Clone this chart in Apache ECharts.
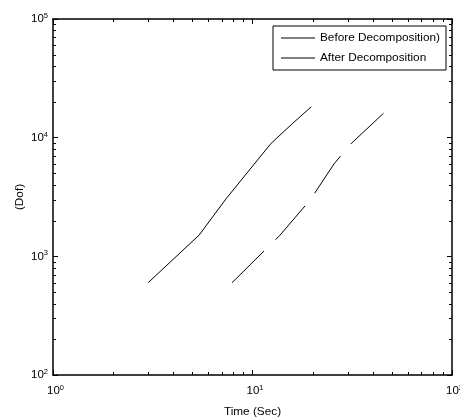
<!DOCTYPE html>
<html>
<head>
<meta charset="utf-8">
<script src="https://cdn.jsdelivr.net/npm/echarts@6/dist/echarts.min.js"></script>
<style>
  html, body { margin: 0; padding: 0; background: #fff; }
  #chart { width: 460px; height: 420px; }
</style>
</head>
<body>
<div id="chart"></div>
<script>
// Degrees of freedom versus solution time, log-log
const seriesNames = ['Before Decomposition)', 'After Decomposition'];
const beforeTime = [3.0, 5.4, 7.4, 10.2, 12.4, 15.9, 19.7];
const beforeDof  = [600, 1510, 3080, 5990, 8960, 13200, 18200];
const afterTime  = [7.9, 13.7, 19.5, 25.6, 31.4, 39.7, 46.5];
const afterDof   = [600, 1500, 3000, 6000, 9000, 13000, 16700];
const xRange = [1, 100];
const yRange = [100, 100000];
const xTitle = 'Time (Sec)';
const yTitle = '(Dof)';

const FONT = 'Liberation Sans, Arial, Helvetica, sans-serif';

function pairs(xs, ys) { return xs.map((x, i) => [x, ys[i]]); }

// 2..9 within each decade, for the minor tick marks
function minorValues(lo, hi) {
  const out = [];
  for (let d = lo; d < hi; d *= 10) {
    for (let k = 2; k <= 9; k++) out.push(d * k);
  }
  return out;
}
const minorX = minorValues(xRange[0], xRange[1]);
const minorY = minorValues(yRange[0], yRange[1]);

function expOf(v) { return Math.round(Math.log10(v)); }

const axisLine = { show: true, onZero: false, lineStyle: { color: '#000', width: 1.5 } };
const majorTick = { show: true, inside: true, length: 5, lineStyle: { color: '#000', width: 1 } };

const supStyle = { fontFamily: FONT, fontSize: 7.5, color: '#000', verticalAlign: 'top', lineHeight: 8, padding: [0, 0, 6, 0] };

const xLabel = {
  show: true,
  margin: 9,
  formatter: v => '{b|10}{s|' + expOf(v) + '}',
  rich: {
    b: { fontFamily: FONT, fontSize: 11.5, color: '#000', padding: [0, 0, 0, 5], lineHeight: 14 },
    s: supStyle
  }
};
const yLabel = {
  show: true,
  margin: 5,
  formatter: v => '{b|10}{s|' + expOf(v) + '}',
  rich: {
    b: { fontFamily: FONT, fontSize: 11.5, color: '#000', lineHeight: 14 },
    s: supStyle
  }
};

function tickLine(x1, y1, x2, y2) {
  return { type: 'line', shape: { x1, y1, x2, y2 }, style: { stroke: '#000', lineWidth: 1 }, silent: true };
}

const chart = echarts.init(document.getElementById('chart'), null, { renderer: 'canvas' });
chart.setOption({
  animation: false,
  backgroundColor: '#fff',
  grid: { left: 53, right: 8, top: 19, bottom: 45, containLabel: false, outerBoundsMode: 'none' },
  legend: {
    data: seriesNames,
    orient: 'vertical',
    left: 273,
    top: 26,
    padding: [5, 6, 5, 8],
    itemGap: 6,
    itemWidth: 34,
    itemHeight: 1,
    icon: 'rect',
    backgroundColor: '#fff',
    borderColor: '#000',
    borderWidth: 1,
    borderRadius: 0,
    textStyle: { fontFamily: FONT, fontSize: 11.8, color: '#000', lineHeight: 14 }
  },
  xAxis: [
    {
      type: 'log', logBase: 10, min: xRange[0], max: xRange[1], position: 'bottom',
      name: xTitle, nameLocation: 'middle', nameGap: 31, nameMoveOverlap: false,
      nameTextStyle: { fontFamily: FONT, fontSize: 11.8, color: '#000' },
      axisLine, axisTick: majorTick, axisLabel: xLabel,
      splitLine: { show: false }, minorTick: { show: false }
    },
    {
      type: 'log', logBase: 10, min: xRange[0], max: xRange[1], position: 'top',
      axisLine, axisTick: majorTick, axisLabel: { show: false },
      splitLine: { show: false }
    }
  ],
  yAxis: [
    {
      type: 'log', logBase: 10, min: yRange[0], max: yRange[1], position: 'left',
      name: yTitle, nameLocation: 'middle', nameGap: 27, nameRotate: 90, nameMoveOverlap: false,
      nameTextStyle: { fontFamily: FONT, fontSize: 11.8, color: '#000' },
      axisLine, axisTick: majorTick, axisLabel: yLabel,
      splitLine: { show: false }
    },
    {
      type: 'log', logBase: 10, min: yRange[0], max: yRange[1], position: 'right',
      axisLine, axisTick: majorTick, axisLabel: { show: false },
      splitLine: { show: false }
    }
  ],
  series: [
    {
      name: seriesNames[0],
      type: 'line',
      data: pairs(beforeTime, beforeDof),
      symbol: 'none',
      lineStyle: { color: '#000', width: 1 },
      itemStyle: { color: '#000' },
      z: 3
    },
    {
      name: seriesNames[1],
      type: 'line',
      data: pairs(afterTime, afterDof),
      symbol: 'none',
      lineStyle: { color: '#000', width: 1, type: [45, 16] },
      itemStyle: { color: '#000' },
      z: 3
    },
    {
      // minor ticks on all four sides of the box
      name: 'minor',
      type: 'custom',
      silent: true,
      data: [[xRange[0], yRange[0]]],
      renderItem: (params, api) => {
        const cs = params.coordSys;
        const top = cs.y, bottom = cs.y + cs.height, left = cs.x, right = cs.x + cs.width;
        const children = [];
        minorX.forEach(v => {
          const px = Math.round(api.coord([v, yRange[0]])[0]) + 0.5;
          children.push(tickLine(px, bottom, px, bottom - 3));
          children.push(tickLine(px, top, px, top + 3));
        });
        minorY.forEach(v => {
          const py = Math.round(api.coord([xRange[0], v])[1]) + 0.5;
          children.push(tickLine(left, py, left + 3, py));
          children.push(tickLine(right, py, right - 3, py));
        });
        return { type: 'group', children };
      },
      z: 2
    }
  ]
});
</script>
</body>
</html>
